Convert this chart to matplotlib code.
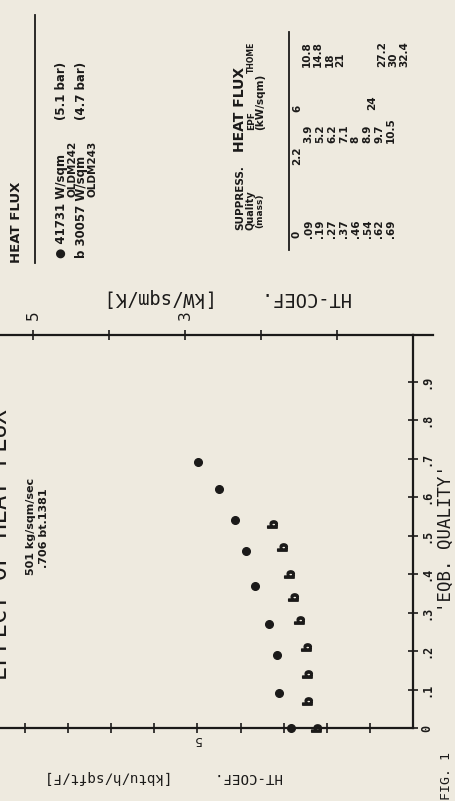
import matplotlib
matplotlib.use("Agg")
import matplotlib.pyplot as plt
from matplotlib.markers import MarkerStyle
from matplotlib.transforms import Affine2D
from matplotlib.lines import Line2D

quality_a = [0.0, 0.09, 0.19, 0.27, 0.37, 0.46, 0.54, 0.62, 0.69]
htc_a = [2.84, 3.10, 3.16, 3.34, 3.67, 3.87, 4.13, 4.49, 4.98]
quality_b = [0.0, 0.07, 0.14, 0.21, 0.28, 0.34, 0.40, 0.47, 0.53]
htc_b = [2.25, 2.45, 2.45, 2.48, 2.64, 2.78, 2.87, 3.05, 3.28]

table_quality = ["0", ".09", ".19", ".27", ".37", ".46", ".54", ".62", ".69"]
table_epf = ["2.2", "3.9", "5.2", "6.2", "7.1", "8", "8.9", "9.7", "10.5"]
table_thome = ["6", "10.8", "14.8", "18", "21", "24", "27.2", "30", "32.4"]

q_ticks = [0, .1, .2, .3, .4, .5, .6, .7, .8, .9]
q_labels = ["0", ".1", ".2", ".3", ".4", ".5", ".6", ".7", ".8", ".9"]
htc_ticks = [1, 2, 3, 4, 5, 6, 7, 8, 9]
htc_labels = ["", "", "", "", "5", "", "", "", ""]
kw_ticks = [10, 20, 30, 40, 50]
kw_labels = ["", "", "3", "", "5"]

W, H = 455, 801
BG = "#eeeadf"
INK = "#1b1a19"
MONO = ["DejaVu Sans Mono", "DejaVu Sans"]
SANS = ["DejaVu Sans"]

fig = plt.figure(figsize=(W / 100, H / 100), dpi=100, facecolor=BG)


def put(x, y, s, rot=90, size=9, weight="bold", family=SANS):
    # x, y in image pixels; text anchored at its start
    fig.text(x / W, 1 - y / H, s, rotation=rot, rotation_mode="anchor",
             ha="left", va="center", fontsize=size, fontweight=weight,
             family=family, color=INK)


# axes box: corner (q=0, htc=0) at pixel (413, 728)
ax = fig.add_axes([0, 73 / H, 413 / W, 393 / H])
ax.set_facecolor(BG)
ax.set_xlim(413 / 43.1, 0)
ax.set_ylim(0, 393 / 385)

ax.plot(htc_a, quality_a, "o", ms=5.5, color=INK, clip_on=False)
bmark = MarkerStyle(r"$\mathbf{b}$", transform=Affine2D().rotate_deg(90))
ax.plot(htc_b, quality_b, linestyle="none", marker=bmark, ms=7,
        color=INK, clip_on=False)

for s in ["bottom", "right"]:
    ax.spines[s].set_linewidth(1.6)
    ax.spines[s].set_color(INK)
ax.spines["left"].set_visible(False)
ax.spines["top"].set_visible(False)

ax.set_xticks(htc_ticks)
ax.set_xticklabels(htc_labels)
ax.tick_params(axis="x", direction="inout", length=7, width=1.2, colors=INK,
               labelrotation=180, labelsize=9, pad=0)

ax.yaxis.tick_right()
ax.set_yticks(q_ticks)
ax.set_yticklabels(q_labels)
ax.tick_params(axis="y", direction="inout", length=7, width=1.2, colors=INK,
               labelrotation=90, labelsize=8.5, pad=2)
for lab in ax.get_yticklabels():
    lab.set_verticalalignment("center")
    lab.set_fontweight("bold")
    lab.set_family(MONO)

sec = ax.secondary_xaxis("top", functions=(lambda c: c * 5.678, lambda k: k / 5.678))
sec.spines["top"].set_linewidth(1.6)
sec.spines["top"].set_color(INK)
sec.set_xticks(kw_ticks)
sec.set_xticklabels(kw_labels)
sec.tick_params(axis="x", direction="inout", length=7, width=1.2, colors=INK,
                labelrotation=90, labelsize=11, pad=7)
# top line runs on a little past the corner
fig.add_artist(Line2D([413 / W, 433 / W], [1 - 335 / H, 1 - 335 / H], color=INK, lw=1.6))

# titles and axis labels
put(0, 680, "EFFECT OF HEAT FLUX", size=17, weight="normal", family=MONO)
put(31, 575, "501 kg/sqm/sec", size=8)
put(44, 568, ".706 bt.1381", size=8)
put(283, 777, "HT-COEF.     [kbtu/h/sqft/F]", rot=180, size=10.2, weight="normal", family=MONO)
put(352, 298, "HT-COEF.    [kW/sqm/K]", rot=180, size=13.5, weight="normal", family=MONO)
put(446, 612, "'EQB. QUALITY'", size=12.5, weight="normal", family=MONO)
put(447, 800, "FIG. 1", size=9.5, weight="normal", family=MONO)

# legend block
put(17, 263, "HEAT FLUX", size=9.5)
fig.add_artist(Line2D([35 / W, 35 / W], [1 - 15 / H, 1 - 263 / H], color=INK, lw=1.3))
put(62, 258, "\u25cf 41731 W/sqm", size=8.5)
put(62, 120, "(5.1 bar)", size=8.5)
put(72, 197, "OLDM242", size=7.5)
put(82, 258, "b 30057 W/sqm", size=8.5)
put(82, 120, "(4.7 bar)", size=8.5)
put(92, 197, "OLDM243", size=7.5)

# suppression table
put(240, 230, "SUPPRESS.", size=7.5)
put(240, 152, "HEAT FLUX", size=10)
put(251, 230, "Quality", size=7)
put(252, 130, "EPF", size=6.5)
put(251, 73, "THOME", size=5.5)
put(260, 228, "(mass)", size=6.5)
put(260, 130, "(kW/sqm)", size=7.5)
fig.add_artist(Line2D([289 / W, 289 / W], [1 - 32 / H, 1 - 250 / H], color=INK, lw=1.3))

thome_x = [297, 307, 318, 330, 340, 372, 382, 393, 404]
thome_y = [112, 67, 67, 67, 67, 110, 67, 67, 67]
for i in range(len(table_quality)):
    rx = 297 + 11.75 * i
    put(rx, 238, table_quality[i], size=7.5)
    put(rx, 165 if i == 0 else 143, table_epf[i], size=7.5)
    put(thome_x[i], thome_y[i], table_thome[i], size=7.5)

fig.savefig("out.png", dpi=100, facecolor=BG)
